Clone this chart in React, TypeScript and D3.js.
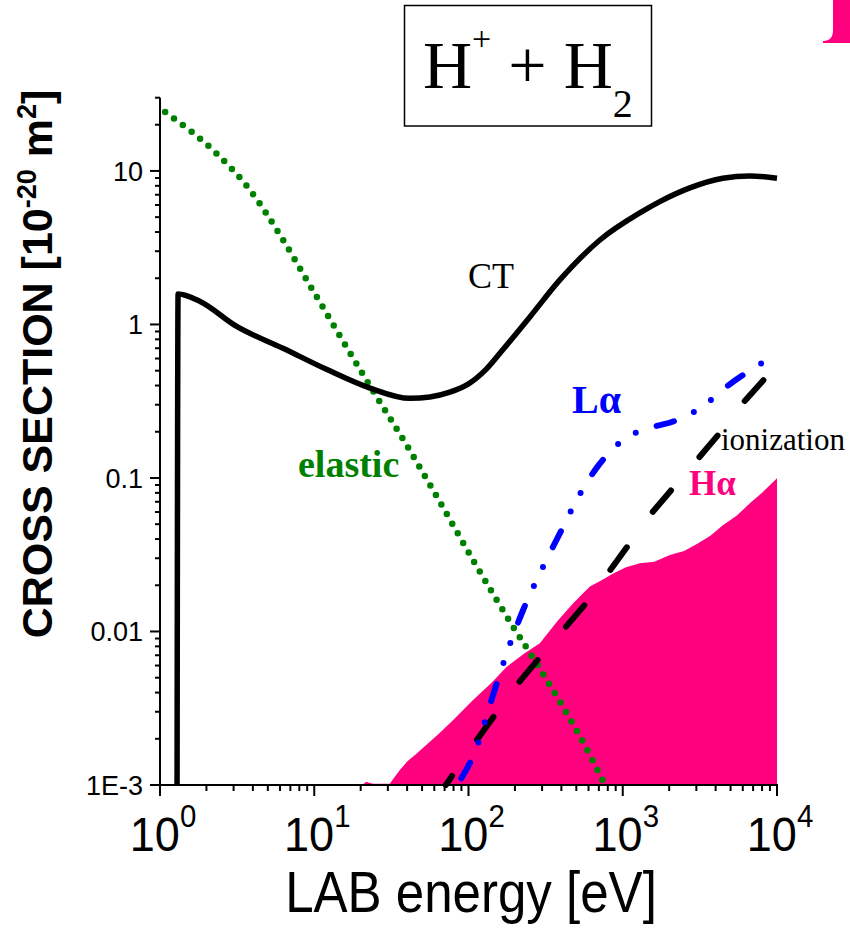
import React from "react";
import * as d3 from "d3";

// ---- data (energy in eV, cross section in 1e-20 m^2) ----
const ctE = [1.29, 1.31, 1.82, 3.14, 6.27, 12.0, 23.0, 41.7, 56.2, 75.7, 100, 130, 170, 250, 391, 711, 1291, 1738, 2722, 4453, 6667, 10000];
const ctS = [0.001, 1.58, 1.41, 0.97, 0.70, 0.51, 0.385, 0.33, 0.337, 0.362, 0.41, 0.51, 0.70, 1.12, 1.95, 3.55, 5.33, 6.31, 7.75, 8.96, 9.28, 8.96];

const elE = [1.08, 2.38, 3.83, 6.0, 9.52, 23.0, 41.7, 61.2, 107, 195, 263, 628, 766];
const elS = [24.2, 12.7, 7.52, 3.83, 1.75, 0.397, 0.151, 0.078, 0.0292, 0.0107, 0.00669, 0.00149, 0.001];

const laE = [84.1, 112, 141, 179, 226, 290, 391, 527, 700, 1042, 1390, 2143, 3355, 4477, 8128];
const laS = [0.001, 0.00172, 0.00358, 0.00746, 0.0138, 0.0239, 0.0436, 0.0783, 0.1216, 0.1814, 0.2077, 0.234, 0.296, 0.378, 0.567];

const ioE = [71.3, 112, 208, 283, 582, 1538, 3083, 4365, 6180, 8750];
const ioS = [0.001, 0.00194, 0.00455, 0.00659, 0.0154, 0.0589, 0.134, 0.2024, 0.3174, 0.469];

const haE = [20.5, 21.7, 23, 24, 30.9, 33, 35.9, 40, 45.0, 56.2, 65, 79.6, 107, 140, 177, 230, 290, 380, 477, 612, 720, 867, 1050, 1291, 1600, 2020, 2500, 3083, 3700, 4477, 5500, 6667, 8000, 10000];
const haS = [0.001, 0.00105, 0.00103, 0.00102, 0.00102, 0.00112, 0.00125, 0.00142, 0.00157, 0.00191, 0.00218, 0.00265, 0.00358, 0.0046, 0.0059, 0.0072, 0.00838, 0.0118, 0.0153, 0.0196, 0.0214, 0.0239, 0.0262, 0.0278, 0.0285, 0.0315, 0.0335, 0.0375, 0.042, 0.0494, 0.057, 0.0684, 0.080, 0.0995];

const yMajor = [0.001, 0.01, 0.1, 1, 10];
const yMajorLabels = ["1E-3", "0.01", "0.1", "1", "10"];
const xMajor = [1, 10, 100, 1000, 10000];
const xExponents = ["0", "1", "2", "3", "4"];

const X0 = 160, X1 = 777, Y0 = 785, Y1 = 97.7;

export default function App() {
  const x = d3.scaleLog().domain([1, 10000]).range([X0, X1]);
  const y = d3.scaleLog().domain([0.001, 30]).range([Y0, Y1]);

  const mk = (E: number[], S: number[]) => E.map((e, i) => [e, S[i]] as [number, number]);
  const line = d3.line<[number, number]>().x(d => x(d[0])).y(d => y(d[1])).curve(d3.curveMonotoneX);
  const lineLin = d3.line<[number, number]>().x(d => x(d[0])).y(d => y(d[1]));
  const area = d3.area<[number, number]>().x(d => x(d[0])).y0(y(0.001)).y1(d => y(d[1]));

  const yMinor: number[] = [];
  for (let p = -3; p <= 1; p++) for (let k = 2; k <= 9; k++) { const v = k * Math.pow(10, p); if (v <= 30.0001) yMinor.push(v); }
  const xMinor: number[] = [];
  for (let p = 0; p <= 3; p++) for (let k = 2; k <= 9; k++) xMinor.push(k * Math.pow(10, p));

  const sans = "'Liberation Sans', Arial, sans-serif";
  const serif = "'Liberation Serif', 'Times New Roman', serif";

  return (
    <svg width={850} height={938} style={{ position: "absolute", left: 0, top: 0, background: "#fff" }}>
      <rect x={0} y={0} width={850} height={938} fill="#fff" />
      {/* corner fragment */}
      <path d="M833,0 L850,0 L850,43 L823,43 L823,41 Q833,41 833,30 Z" fill="#FF007F" />

      {/* H alpha area */}
      <path d={area(mk(haE, haS)) || ""} fill="#FF007F" />

      {/* axes */}
      <g stroke="#000" strokeWidth={2} fill="none">
        <line x1={X0} y1={Y1} x2={X0} y2={Y0 + 1} />
        <line x1={X0 - 1} y1={Y0} x2={X1 + 1} y2={Y0} />
        {yMajor.map(v => <line key={"ym" + v} x1={X0 - 10} x2={X0} y1={y(v)} y2={y(v)} />)}
        {yMinor.map(v => <line key={"yn" + v} x1={X0 - 5} x2={X0} y1={y(v)} y2={y(v)} />)}
        {xMajor.map(v => <line key={"xm" + v} x1={x(v)} x2={x(v)} y1={Y0} y2={Y0 + 11} />)}
        {xMinor.map(v => <line key={"xn" + v} x1={x(v)} x2={x(v)} y1={Y0} y2={Y0 + 6} />)}
      </g>
      {yMajor.map((v, i) => (
        <text key={"yl" + v} x={143} y={y(v)} dy="0.36em" textAnchor="end" fontFamily={sans} fontSize={27} fill="#000">{yMajorLabels[i]}</text>
      ))}
      {xMajor.map((v, i) => (
        <g key={"xl" + v} transform={`translate(${x(v) + 3},851) scale(0.92,1)`}>
          <text x={0} y={0} textAnchor="middle" fontFamily={sans} fontSize={49} fill="#000">
            <tspan>10</tspan>
            <tspan dy={-24} fontSize={32}>{xExponents[i]}</tspan>
          </text>
        </g>
      ))}
      <g transform="translate(471,912) scale(0.88,1)">
        <text x={0} y={0} textAnchor="middle" fontFamily={sans} fontSize={58} fill="#000">LAB energy [eV]</text>
      </g>
      <text transform="translate(52,364) rotate(-90)" textAnchor="middle" fontFamily={sans} fontWeight="bold" fontSize={43} fill="#000">
        <tspan>CROSS SECTION [10</tspan>
        <tspan dy={-16} fontSize={27}>-20</tspan>
        <tspan dy={16} fontSize={43}> m</tspan>
        <tspan dy={-16} fontSize={27}>2</tspan>
        <tspan dy={16} fontSize={43}>]</tspan>
      </text>

      {/* curves */}
      <path d={line(mk(elE, elS)) || ""} fill="none" stroke="#008000" strokeWidth={6.5} strokeLinecap="round" strokeDasharray="0 11" />
      <path d={lineLin(mk(ioE, ioS)) || ""} fill="none" stroke="#000" strokeWidth={6} strokeLinecap="round" strokeDasharray="28 44" strokeDashoffset={17} />
      <path d={line(mk(laE, laS)) || ""} fill="none" stroke="#0000FF" strokeWidth={6} strokeLinecap="round" strokeDasharray="18 22 0 21 0 22" strokeDashoffset={-8} />
      <path d={line(mk(ctE, ctS)) || ""} fill="none" stroke="#000" strokeWidth={5.5} strokeLinejoin="miter" />

      {/* labels */}
      <text x={468} y={288} fontFamily={serif} fontSize={36} fill="#000">CT</text>
      <text x={572} y={413} fontFamily={serif} fontWeight="bold" fontSize={40} fill="#0000FF">Lα</text>
      <text x={721} y={450} fontFamily={serif} fontSize={31} fill="#000">ionization</text>
      <text x={689} y={495} fontFamily={serif} fontWeight="bold" fontSize={35} fill="#FF007F">Hα</text>
      <text x={298} y={477} fontFamily={serif} fontWeight="bold" fontSize={38} fill="#008000">elastic</text>

      {/* title */}
      <rect x={404.5} y={5.5} width={247} height={120.5} fill="none" stroke="#000" strokeWidth={1.5} />
      <text x={423} y={88} fontFamily={serif} fontSize={68} fill="#000">
        <tspan>H</tspan>
        <tspan dy={-38} fontSize={34}>+</tspan>
        <tspan dy={38} fontSize={68}> + H</tspan>
        <tspan dy={29} fontSize={40}>2</tspan>
      </text>
    </svg>
  );
}
